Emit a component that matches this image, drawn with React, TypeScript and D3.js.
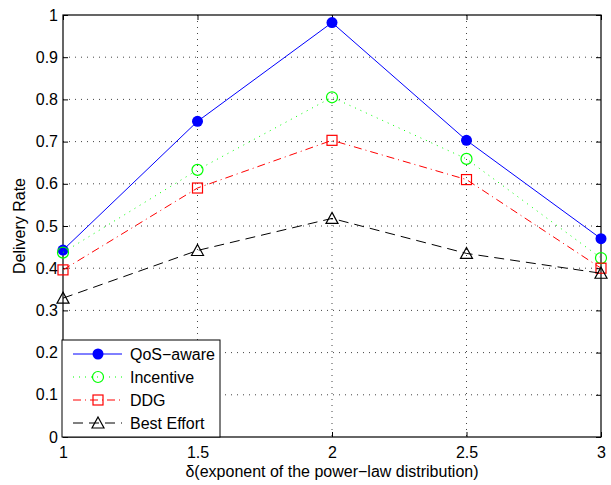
import { useEffect, useRef } from "react";
import * as d3 from "d3";

const deltas = [1, 1.5, 2, 2.5, 3];
const qosAware = [0.443, 0.748, 0.982, 0.703, 0.47];
const incentive = [0.437, 0.633, 0.805, 0.659, 0.424];
const ddg = [0.396, 0.59, 0.703, 0.61, 0.4];
const bestEffort = [0.329, 0.442, 0.518, 0.435, 0.388];
const xTicks = [1, 1.5, 2, 2.5, 3];
const yTicks = [0, 0.1, 0.2, 0.3, 0.4, 0.5, 0.6, 0.7, 0.8, 0.9, 1];

type Series = { name: string; values: number[]; color: string; dash: string | null; marker: string };

const seriesList: Series[] = [
  { name: "QoS\u2212aware", values: qosAware, color: "#0000ff", dash: null, marker: "dot" },
  { name: "Incentive", values: incentive, color: "#00ff00", dash: "1,5", marker: "circle" },
  { name: "DDG", values: ddg, color: "#ff0000", dash: "8,4,1,4", marker: "square" },
  { name: "Best Effort", values: bestEffort, color: "#000000", dash: "10,6", marker: "triangle" },
];

export default function App() {
  const svgRef = useRef<SVGSVGElement>(null);
  useEffect(() => {
    if (!svgRef.current) return;
    document.body.style.margin = "0";
    const W = 611, H = 485;
    const margin = { top: 15, right: 10, bottom: 48, left: 63 };
    const width = W - margin.left - margin.right;
    const height = H - margin.top - margin.bottom;
    const svg = d3.select(svgRef.current);
    svg.selectAll("*").remove();
    svg.attr("width", W).attr("height", H);
    svg.append("rect").attr("width", W).attr("height", H).attr("fill", "#fff");
    const g = svg.append("g").attr("transform", `translate(${margin.left},${margin.top})`);

    const x = d3.scaleLinear().domain([1, 3]).range([0, width]);
    const y = d3.scaleLinear().domain([0, 1]).range([height, 0]);
    const font = "'Liberation Sans', Arial, sans-serif";
    const fs = 16;

    // grid
    g.append("g").selectAll("line").data(xTicks.slice(1, -1)).enter().append("line")
      .attr("x1", d => x(d)).attr("x2", d => x(d)).attr("y1", 0).attr("y2", height)
      .attr("stroke", "#444").attr("stroke-width", 1).attr("stroke-dasharray", "1,5");
    g.append("g").selectAll("line").data(yTicks.slice(1, -1)).enter().append("line")
      .attr("y1", d => y(d)).attr("y2", d => y(d)).attr("x1", 0).attr("x2", width)
      .attr("stroke", "#444").attr("stroke-width", 1).attr("stroke-dasharray", "1,5");

    // axes with inward ticks
    const xAxis = g.append("g").attr("transform", `translate(0,${height})`)
      .call(d3.axisBottom(x).tickValues(xTicks).tickSizeInner(-5).tickSizeOuter(0).tickPadding(10).tickFormat(d3.format("")));
    const yAxis = g.append("g")
      .call(d3.axisLeft(y).tickValues(yTicks).tickSizeInner(-5).tickSizeOuter(0).tickPadding(5).tickFormat(d3.format("")));
    g.append("g").call(d3.axisTop(x).tickValues(xTicks).tickSizeInner(-5).tickSizeOuter(0).tickFormat(() => ""));
    g.append("g").attr("transform", `translate(${width},0)`)
      .call(d3.axisRight(y).tickValues(yTicks).tickSizeInner(-5).tickSizeOuter(0).tickFormat(() => ""));
    svg.selectAll(".domain").remove();
    svg.selectAll(".tick line").attr("stroke", "#000");
    [xAxis, yAxis].forEach(a => a.selectAll("text").attr("fill", "#000").attr("font-size", fs).attr("font-family", font));
    g.append("rect").attr("width", width).attr("height", height).attr("fill", "none").attr("stroke", "#000").attr("stroke-width", 1.2);

    const line = d3.line<number>().x((_, i) => x(deltas[i])).y(d => y(d));

    const drawMarker = (sel: any, s: Series, cx: number, cy: number) => {
      if (s.marker === "dot") {
        sel.append("circle").attr("cx", cx).attr("cy", cy).attr("r", 5.5).attr("fill", s.color);
      } else if (s.marker === "circle") {
        sel.append("circle").attr("cx", cx).attr("cy", cy).attr("r", 5.5).attr("fill", "none").attr("stroke", s.color).attr("stroke-width", 1.2);
      } else if (s.marker === "square") {
        sel.append("rect").attr("x", cx - 5).attr("y", cy - 5).attr("width", 10).attr("height", 10)
          .attr("fill", "none").attr("stroke", s.color).attr("stroke-width", 1.2);
      } else {
        sel.append("path").attr("d", `M${cx},${cy - 6}L${cx + 6},${cy + 5}L${cx - 6},${cy + 5}Z`)
          .attr("fill", "none").attr("stroke", s.color).attr("stroke-width", 1.2);
      }
    };

    seriesList.forEach(s => {
      const sg = g.append("g");
      sg.append("path").attr("d", line(s.values)).attr("fill", "none").attr("stroke", s.color)
        .attr("stroke-width", 1).attr("stroke-dasharray", s.dash);
      s.values.forEach((v, i) => drawMarker(sg, s, x(deltas[i]), y(v)));
    });

    // legend
    const lg = g.append("g").attr("transform", `translate(-1,${height - 97})`);
    lg.append("rect").attr("width", 158).attr("height", 97).attr("fill", "#fff").attr("stroke", "#000").attr("stroke-width", 1);
    seriesList.forEach((s, i) => {
      const ly = 14 + i * 23;
      const eg = lg.append("g");
      eg.append("line").attr("x1", 11).attr("x2", 60).attr("y1", ly).attr("y2", ly)
        .attr("stroke", s.color).attr("stroke-width", 1).attr("stroke-dasharray", s.dash);
      drawMarker(eg, s, 36, ly);
      eg.append("text").attr("x", 68).attr("y", ly).attr("dy", "0.36em").attr("font-size", fs)
        .attr("font-family", font).attr("fill", "#000").text(s.name);
    });

    // labels
    g.append("text").attr("x", width / 2).attr("y", height + 40).attr("text-anchor", "middle")
      .attr("font-size", fs).attr("font-family", font).text("\u03b4(exponent of the power\u2212law distribution)");
    g.append("text").attr("transform", "rotate(-90)").attr("x", -height / 2).attr("y", -38)
      .attr("text-anchor", "middle").attr("font-size", fs).attr("font-family", font).text("Delivery Rate");
  }, []);
  return (
    <div>
      <svg ref={svgRef} style={{ display: "block" }}></svg>
    </div>
  );
}
